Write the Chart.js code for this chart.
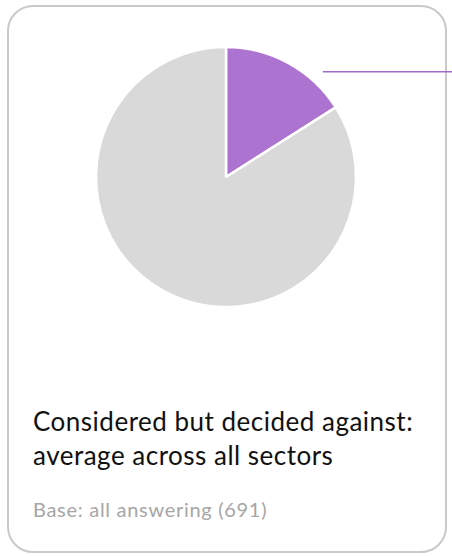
<!DOCTYPE html>
<html>
<head>
<meta charset="utf-8">
<script src="https://cdn.jsdelivr.net/npm/chart.js@4.4.1/dist/chart.umd.min.js"></script>
<style>
  html, body { margin: 0; padding: 0; background: #ffffff; }
  body { width: 452px; height: 556px; position: relative; overflow: hidden; font-family: Lato, "Open Sans", sans-serif; }
  .card {
    position: absolute; left: 7px; top: 5px; width: 436px; height: 544px;
    border: 2px solid #c9c9c9; border-radius: 26px; box-sizing: content-box;
  }
  .chart-wrap { position: absolute; left: 0; top: 0; width: 452px; height: 354px; }
  .title {
    position: absolute; left: 33px; top: 404px; font-size: 26px; line-height: 34px; letter-spacing: 0.5px; color: #111111;
  }
  .base {
    position: absolute; left: 33px; top: 497px; font-size: 20px; line-height: 24px; letter-spacing: 0.7px; color: #a6a6a6;
  }
</style>
</head>
<body>
<div class="card"></div>
<div class="chart-wrap"><canvas id="pie-chart"></canvas></div>
<div class="title">Considered but decided against:<br>average across all sectors</div>
<div class="base">Base: all answering (691)</div>

<script>
// pie data: share that considered but decided against vs. the rest
const labels = ['Considered but decided against', 'Other'];
const values = [16, 84];
const colors = ['#ad73d1', '#d9d9d9'];

// leader line going out from the highlighted slice towards the right edge
const leaderLine = {
    id: 'leaderLine',
    afterDatasetsDraw(chart) {
        const arc = chart.getDatasetMeta(0).data[0];
        if (!arc) return;
        const { x, y, outerRadius } = arc.getProps(['x', 'y', 'outerRadius'], true);
        const ctx = chart.ctx;
        const y0 = y - outerRadius * 0.81;
        ctx.save();
        ctx.strokeStyle = '#a06cc8';
        ctx.lineWidth = 1.5;
        ctx.beginPath();
        ctx.moveTo(x + outerRadius * 0.745, y0);
        ctx.lineTo(chart.width, y0);
        ctx.stroke();
        ctx.restore();
    }
};

new Chart(document.getElementById('pie-chart'), {
    type: 'pie',
    data: {
        labels: labels,
        datasets: [{
            data: values,
            backgroundColor: colors,
            borderColor: '#ffffff',
            borderWidth: 2.5,
            radius: 130
        }]
    },
    options: {
        responsive: true,
        maintainAspectRatio: false,
        animation: false,
        plugins: {
            legend: { display: false },
            tooltip: { enabled: false }
        }
    },
    plugins: [leaderLine]
});
</script>
</body>
</html>
